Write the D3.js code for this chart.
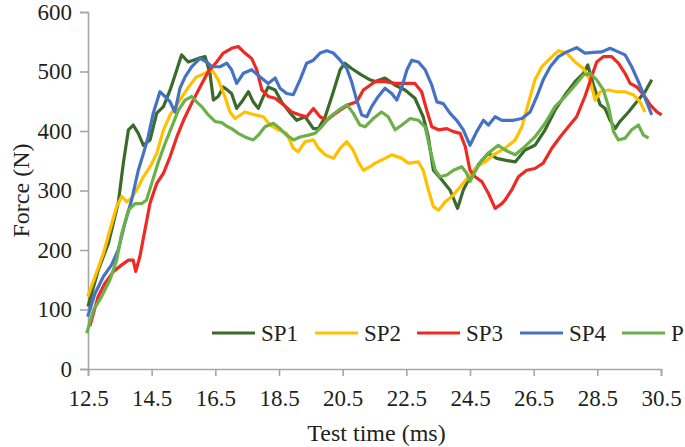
<!DOCTYPE html>
<html>
<head>
<meta charset="utf-8">
<script src="https://cdn.jsdelivr.net/npm/d3@7"></script>
<style>
  body { margin: 0; background: #fff; }
  svg text { font-family: "Times New Roman", "Liberation Serif", Times, serif; fill: #231f20; }
</style>
</head>
<body>
<div id="chart"></div>
<script>
var seriesNames = ["SP1", "SP2", "SP3", "SP4", "P"];
var seriesColors = ["#3b6b2a", "#ffc000", "#ee2a24", "#4472c4", "#6cb04a"];

var xTicks = [12.5, 14.5, 16.5, 18.5, 20.5, 22.5, 24.5, 26.5, 28.5, 30.5];
var yTicks = [0, 100, 200, 300, 400, 500, 600];

// [time (ms), force (N)]
var sp1 = [[12.5,105],[12.82,166],[13.14,211],[13.45,279],[13.61,346],[13.77,402],[13.92,410],[14.08,396],[14.24,376],[14.45,385],[14.66,430],[14.87,441],[15.08,469],[15.29,503],[15.44,528],[15.65,516],[15.97,522],[16.18,525],[16.33,497],[16.44,452],[16.59,458],[16.75,474],[16.85,470],[17.01,463],[17.17,438],[17.33,449],[17.54,466],[17.69,449],[17.85,438],[18.01,458],[18.16,474],[18.38,469],[18.58,449],[18.85,430],[19.06,418],[19.32,424],[19.58,404],[19.74,404],[19.95,424],[20.16,458],[20.42,503],[20.57,514],[20.78,505],[21.1,494],[21.36,486],[21.52,483],[21.83,489],[22.15,477],[22.46,469],[22.77,455],[23.03,424],[23.19,390],[23.35,334],[23.61,318],[23.87,301],[24.11,270],[24.29,301],[24.5,323],[24.76,343],[25.08,363],[25.34,354],[25.6,351],[25.92,348],[26.23,368],[26.54,376],[26.86,402],[27.17,435],[27.49,461],[27.8,483],[28.06,497],[28.2,511],[28.38,477],[28.59,444],[28.74,438],[28.9,418],[29.06,404],[29.21,416],[29.48,432],[29.74,449],[30.0,466],[30.21,486]];

var sp2 = [[12.49,122],[12.72,155],[12.98,194],[13.19,234],[13.4,273],[13.56,290],[13.72,281],[13.87,287],[14.08,306],[14.24,323],[14.45,340],[14.66,362],[14.87,402],[15.08,427],[15.29,444],[15.5,461],[15.7,477],[15.91,491],[16.18,497],[16.39,503],[16.59,486],[16.8,458],[16.96,432],[17.12,421],[17.43,432],[17.75,427],[18.01,424],[18.22,410],[18.48,402],[18.74,396],[18.95,371],[19.1,365],[19.32,382],[19.58,385],[19.74,371],[19.95,360],[20.21,354],[20.42,371],[20.63,382],[20.83,368],[20.99,348],[21.15,334],[21.36,340],[21.52,346],[21.83,354],[22.04,360],[22.36,354],[22.56,346],[22.88,348],[23.03,334],[23.19,301],[23.35,273],[23.51,267],[23.72,281],[23.93,290],[24.19,306],[24.45,323],[24.71,340],[24.97,348],[25.23,360],[25.5,368],[25.6,371],[25.92,385],[26.13,407],[26.33,446],[26.54,486],[26.76,508],[27.02,522],[27.28,535],[27.54,531],[27.8,516],[28.06,505],[28.27,486],[28.43,452],[28.59,466],[28.85,469],[29.11,466],[29.37,466],[29.63,461],[29.84,449],[30.0,432]];

var sp3 = [[12.56,72],[12.82,122],[13.03,144],[13.3,164],[13.56,175],[13.77,183],[13.92,183],[14.0,164],[14.13,189],[14.29,234],[14.45,279],[14.66,312],[14.87,329],[15.08,357],[15.29,390],[15.5,418],[15.76,447],[16.02,474],[16.28,500],[16.54,516],[16.75,531],[17.01,539],[17.22,542],[17.43,531],[17.64,522],[17.8,503],[17.96,469],[18.16,458],[18.38,455],[18.64,444],[18.9,432],[19.16,427],[19.37,424],[19.58,438],[19.79,424],[20.0,418],[20.21,427],[20.42,435],[20.68,444],[20.94,449],[21.15,469],[21.52,483],[21.83,483],[22.15,480],[22.46,480],[22.77,480],[22.98,466],[23.14,435],[23.3,407],[23.51,402],[23.77,404],[23.98,399],[24.19,396],[24.35,374],[24.5,334],[24.66,323],[24.87,315],[25.08,295],[25.29,270],[25.5,278],[25.6,284],[25.81,301],[26.02,323],[26.28,334],[26.54,337],[26.8,346],[27.07,371],[27.33,390],[27.59,407],[27.85,424],[28.11,458],[28.32,491],[28.48,516],[28.69,525],[28.95,525],[29.16,514],[29.37,497],[29.53,480],[29.74,474],[29.95,461],[30.16,444],[30.37,432],[30.52,427]];

var sp4 = [[12.49,88],[12.72,127],[12.98,155],[13.24,175],[13.45,200],[13.66,245],[13.87,284],[14.08,334],[14.24,362],[14.39,390],[14.55,430],[14.76,466],[14.92,458],[15.08,449],[15.23,432],[15.39,472],[15.55,491],[15.76,508],[16.02,522],[16.23,516],[16.39,508],[16.65,508],[16.86,514],[17.01,503],[17.17,480],[17.38,497],[17.64,503],[17.9,491],[18.16,480],[18.38,489],[18.53,472],[18.74,463],[18.95,461],[19.16,486],[19.37,514],[19.58,519],[19.79,531],[20.0,535],[20.21,531],[20.42,519],[20.63,505],[20.78,483],[20.94,452],[21.1,427],[21.26,424],[21.41,441],[21.62,458],[21.83,472],[22.04,463],[22.2,452],[22.36,474],[22.52,503],[22.67,519],[22.88,516],[23.09,503],[23.3,477],[23.46,449],[23.66,446],[23.87,430],[24.08,418],[24.29,402],[24.5,376],[24.71,399],[24.92,418],[25.08,410],[25.29,424],[25.5,418],[25.86,418],[26.13,421],[26.39,432],[26.6,458],[26.8,486],[27.02,508],[27.28,525],[27.54,533],[27.85,540],[28.11,531],[28.38,532],[28.64,533],[28.9,539],[29.16,533],[29.37,528],[29.58,508],[29.79,483],[30.0,455],[30.21,427]];

var pSeries = [[12.46,60],[12.67,99],[12.93,122],[13.19,150],[13.4,183],[13.56,228],[13.77,267],[13.98,278],[14.19,278],[14.34,284],[14.5,312],[14.71,348],[14.92,379],[15.13,407],[15.34,435],[15.55,452],[15.76,458],[15.91,449],[16.07,441],[16.28,427],[16.49,416],[16.7,414],[16.86,408],[17.01,404],[17.22,396],[17.43,390],[17.69,385],[17.85,393],[18.06,407],[18.32,413],[18.53,404],[18.74,393],[18.95,385],[19.16,390],[19.42,393],[19.63,396],[19.84,407],[20.1,424],[20.37,435],[20.63,444],[20.83,430],[21.04,410],[21.2,407],[21.46,421],[21.72,432],[21.93,424],[22.15,402],[22.36,410],[22.62,421],[22.88,418],[23.09,407],[23.25,368],[23.41,334],[23.56,323],[23.77,326],[23.98,334],[24.24,340],[24.4,329],[24.5,315],[24.66,332],[24.87,351],[25.13,365],[25.39,376],[25.6,368],[25.92,360],[26.23,374],[26.54,390],[26.86,413],[27.17,441],[27.49,458],[27.8,477],[28.06,494],[28.27,497],[28.48,486],[28.69,469],[28.85,441],[29.01,399],[29.16,385],[29.37,388],[29.58,402],[29.79,410],[29.95,393],[30.11,388]];

var allSeries = [sp1, sp2, sp3, sp4, pSeries];

var width = 685;
var height = 447;
var margin = { top: 12, right: 24, bottom: 78, left: 88 };
var axisColor = "#a6a6a6";
var fontStack = "'Times New Roman', 'Liberation Serif', Times, serif";

var svg = d3.select("#chart").append("svg")
  .attr("width", width)
  .attr("height", height);

var x = d3.scaleLinear()
  .domain([12.5, 30.5])
  .range([margin.left, width - margin.right]);

var y = d3.scaleLinear()
  .domain([0, 600])
  .range([height - margin.bottom, margin.top]);

// y axis
var yAxis = svg.append("g")
  .attr("transform", "translate(" + margin.left + ",0)")
  .call(d3.axisLeft(y).tickValues(yTicks).tickSize(8).tickPadding(8));

// x axis
var xAxis = svg.append("g")
  .attr("transform", "translate(0," + (height - margin.bottom) + ")")
  .call(d3.axisBottom(x).tickValues(xTicks).tickFormat(d3.format(".1f")).tickSize(7).tickPadding(14));

[xAxis, yAxis].forEach(function(ax) {
  ax.select(".domain").attr("stroke", axisColor).attr("stroke-width", 1.6);
  ax.selectAll(".tick line").attr("stroke", axisColor).attr("stroke-width", 1.6);
  ax.selectAll(".tick text")
    .attr("fill", "#231f20")
    .style("font-size", "23px")
    .style("font-family", fontStack);
});

var line = d3.line()
  .x(function(d) { return x(d[0]); })
  .y(function(d) { return y(d[1]); });

svg.append("g").selectAll("path")
  .data(allSeries)
  .join("path")
  .attr("d", line)
  .attr("fill", "none")
  .attr("stroke", function(d, i) { return seriesColors[i]; })
  .attr("stroke-width", 3.2)
  .attr("stroke-linejoin", "round");

// legend
var legendX = [212, 315, 417, 520, 622];
var legendY = 333;
var legend = svg.append("g").selectAll("g")
  .data(seriesNames)
  .join("g")
  .attr("transform", function(d, i) { return "translate(" + legendX[i] + "," + legendY + ")"; });

legend.append("line")
  .attr("x1", 0).attr("x2", 43)
  .attr("stroke", function(d, i) { return seriesColors[i]; })
  .attr("stroke-width", 3.2);

legend.append("text")
  .attr("x", 49)
  .attr("dy", "0.35em")
  .style("font-size", "23px")
  .style("font-family", fontStack)
  .text(function(d) { return d; });

// axis titles
svg.append("text")
  .attr("x", (margin.left + width - margin.right) / 2 + 2)
  .attr("y", 441)
  .attr("text-anchor", "middle")
  .style("font-size", "24px")
  .style("font-family", fontStack)
  .text("Test time (ms)");

svg.append("text")
  .attr("transform", "translate(21," + ((margin.top + height - margin.bottom) / 2) + ") rotate(-90)")
  .attr("text-anchor", "middle")
  .attr("dy", "0.32em")
  .style("font-size", "24px")
  .style("font-family", fontStack)
  .text("Force (N)");
</script>
</body>
</html>
